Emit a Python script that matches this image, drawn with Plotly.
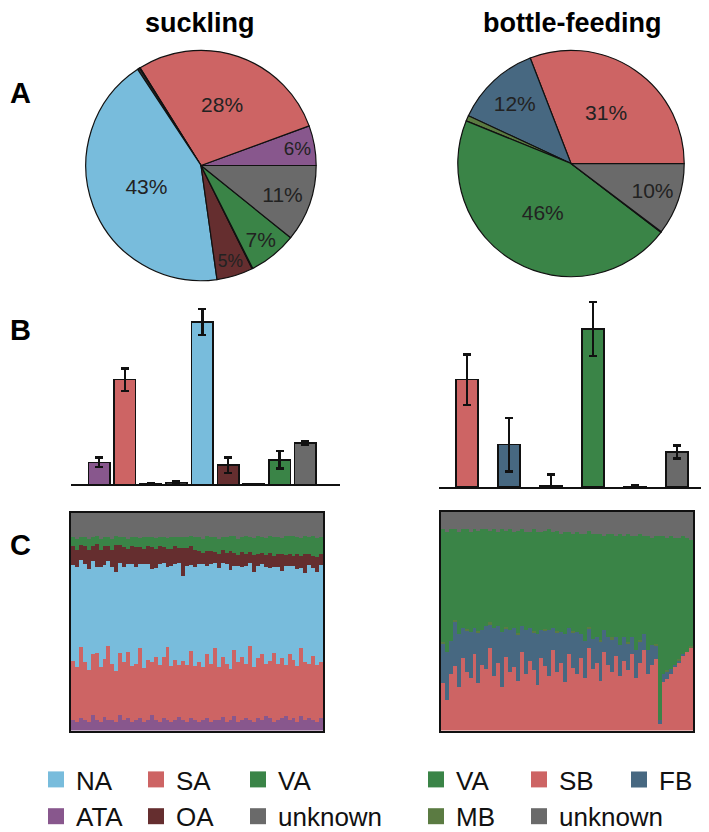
import plotly.graph_objects as go

W, H = 709, 832
def fx(p): return p / W
def fy(p): return 1 - p / H

FONT = "Liberation Sans, Arial, sans-serif"

# ---------------- colours ----------------
COL = {
    "NA": "#78BCDC", "SA": "#CD6464", "VA": "#3A8447", "ATA": "#88578D",
    "OA": "#652E2F", "unknown": "#6A6A6A", "SB": "#CD6464", "FB": "#476881",
    "MB": "#5B7B42", "other": "#333333",
}

# ---------------- A: pie charts ----------------
suck_pie_labels = ["ATA", "SA", "other1", "other2", "NA", "OA", "other3", "VA", "unknown"]
suck_pie_values = [5.6, 28.3, 0.1, 0.3, 43.0, 5.1, 0.1, 6.8, 10.8]
bottle_pie_labels = ["SB", "FB", "MB", "VA", "other", "unknown"]
bottle_pie_values = [30.9, 12.2, 0.8, 45.8, 0.1, 10.3]

# ---------------- B: bar charts ----------------
suck_bar_cats = ["ATA", "SA", "other1", "other2", "NA", "OA", "other3", "VA", "unknown"]
suck_bar_vals = [4.5, 21.3, 0.15, 0.4, 33.0, 3.9, 0.1, 5.0, 8.4]
suck_bar_err = [1.0, 2.3, 0.0, 0.2, 2.6, 1.6, 0.0, 1.8, 0.4]
bottle_bar_cats = ["SB", "FB", "MB", "VA", "other", "unknown"]
bottle_bar_vals = [21.8, 8.6, 0.2, 32.1, 0.1, 7.1]
bottle_bar_err = [5.1, 5.4, 2.4, 5.5, 0.2, 1.3]

# ---------------- C: per-sample composition ----------------
suck_ATA = [5,4,6,5,4,7,5,4, 6,5,5,4,7,5,6,4, 5,6,4,5,7,5,4,6, 5,4,5,6,5,4,6,5,
            4,5,6,4,5,5,6,4, 5,7,4,5,6,5,4,6, 5,7,6,4,5,6,7,5, 6,4,7,5,6,5,4,6]
suck_SA = [27,25,33,26,24,28,32,25, 27,34,26,24,29,27,31,25, 26,33,24,27,25,30,26,28,
           35,25,27,24,29,26,32,25, 27,24,30,26,33,25,28,26, 24,31,27,29,25,34,26,28,
           30,25,27,32,26,29,24,31, 27,26,33,28,25,30,27,26]
suck_NA = [44,46,40,45,47,42,41,46, 43,39,45,47,42,44,41,46, 45,40,47,44,43,42,46,44,
           38,45,44,47,42,45,41,46, 44,47,41,45,39,46,43,45, 47,40,44,42,46,38,45,43,
           41,46,44,40,45,42,47,41, 44,45,39,43,46,41,44,45]
suck_OA = [9,8,7,8,9,7,11,8, 9,7,8,13,8,9,7,8, 9,8,7,8,10,9,8,7, 9,8,8,7,14,8,9,8,
           6,5,7,6,5,7,6,5, 9,6,5,7,6,5,8,6, 5,6,7,5,6,8,5,6, 5,7,6,9,5,6,7,5]
suck_VA = [4,5,4,4,5,4,4,5, 4,4,5,4,4,5,5,4, 5,4,5,4,5,5,4,5, 5,5,4,5,5,5,5,6,
           6,6,7,6,7,7,6,7, 7,8,7,7,8,7,8,8, 7,8,8,9,8,8,9,8, 9,8,9,9,8,9,9,8]
suck_UN = [11,12,11,11,12,11,11,12, 11,11,12,11,11,11,12,11, 11,12,11,11,11,12,11,11,
           12,11,11,11,12,11,11,11, 11,12,11,11,11,12,11,11, 11,11,12,11,11,11,12,11,
           11,12,11,11,11,12,11,11, 11,11,12,11,11,11,12,11]

bot_SB = [22,14,26,30,20,33,27,24, 35,22,30,28,38,25,31,20, 34,27,29,23,36,26,32,28,
          21,33,30,25,37,27,31,22, 35,29,26,33,24,38,28,31, 23,36,30,27,34,25,32,28,
          35,24,31,37,26,30,33,3, 22,24,26,29,31,34,36,38]
bot_FB = [18,22,15,20,24,14,19,21, 12,23,16,20,11,22,17,25, 13,19,18,21,12,20,15,17,
          23,13,16,21,10,18,14,22, 12,16,19,11,17,9,14,12, 18,10,13,15,9,14,11,12,
          8,13,10,7,11,9,6,2, 4,3,2,1,1,1,0,0]
bot_MB = [1,0,0,1,0,0,1,0, 0,1,0,0,1,0,0,0, 1,0,0,1,0,0,0,1, 0,0,1,0,0,1,0,0,
          0,1,0,0,0,1,0,0, 1,0,0,1,0,0,0,1, 0,0,1,0,0,0,1,0, 0,1,0,0,1,0,0,1]
bot_VA = [52,55,51,42,47,45,46,46, 45,46,46,44,42,45,43,47, 44,46,44,47,44,45,44,47,
          47,45,45,46,44,46,45,47, 44,45,46,46,49,44,48,47, 49,43,47,48,46,51,46,50,
          46,52,49,45,52,49,50,84, 63,61,61,58,56,54,52,49]
bot_UN = [8,9,8,8,9,8,8,9, 8,9,8,8,9,8,9,8, 9,8,9,9,8,9,9,8, 9,9,9,8,9,9,10,9,
          9,10,9,10,10,9,10,10, 10,11,10,10,11,10,11,10, 11,11,10,11,11,12,11,11,
          11,12,11,12,12,11,12,13]

def normalise(series_list):
    n = len(series_list[0])
    tot = [sum(s[i] for s in series_list) for i in range(n)]
    return [[100.0 * s[i] / tot[i] for i in range(n)] for s in series_list]

fig = go.Figure()

def pie_text(vals):
    tot = sum(vals)
    return [f"{100*v/tot:.0f}%" if 100 * v / tot >= 2 else "" for v in vals]

for labels, vals, dom in [
    (suck_pie_labels, suck_pie_values, ([fx(76), fx(310)], [fy(277), fy(43)])),
    (bottle_pie_labels, bottle_pie_values, ([fx(448), fx(678)], [fy(273), fy(43)])),
]:
    # plotly offsets a counterclockwise pie by its first slice; start the first slice at 3 o'clock
    first_angle = 360.0 * vals[0] / sum(vals)
    fig.add_trace(go.Pie(
        labels=labels, values=vals, sort=False, direction="counterclockwise",
        rotation=90 - first_angle, domain=dict(x=dom[0], y=dom[1]),
        marker=dict(colors=[COL.get(l, COL["other"]) for l in labels],
                    line=dict(color="#111111", width=1.2)),
        text=pie_text(vals), textinfo="text", textposition="inside",
        insidetextorientation="horizontal",
        textfont=dict(family=FONT, size=21, color="#222222"),
        showlegend=False, hoverinfo="label+percent",
    ))

# B bars
for cats, vals, err, xa, ya, w in [
    (suck_bar_cats, suck_bar_vals, suck_bar_err, "x", "y", 0.83),
    (bottle_bar_cats, bottle_bar_vals, bottle_bar_err, "x2", "y2", 0.53),
]:
    fig.add_trace(go.Bar(
        x=list(range(len(cats))), y=vals, width=w, xaxis=xa, yaxis=ya,
        marker=dict(color=[COL.get(c, COL["other"]) for c in cats],
                    line=dict(color="#111111", width=1.5)),
        error_y=dict(type="data", array=err, color="#111111", thickness=2.5, width=4),
        showlegend=False, hovertext=cats, hoverinfo="text+y",
    ))

# C stacked composition
suck_names = ["ATA", "SA", "NA", "OA", "VA", "unknown"]
suck_norm = normalise([suck_ATA, suck_SA, suck_NA, suck_OA, suck_VA, suck_UN])
for name, ser in zip(suck_names, suck_norm):
    fig.add_trace(go.Bar(x=list(range(len(ser))), y=ser, width=1.0, xaxis="x3", yaxis="y3",
                         marker=dict(color=COL[name], line=dict(width=0)),
                         name=name, showlegend=False))
bot_names = ["SB", "FB", "MB", "VA", "unknown"]
bot_norm = normalise([bot_SB, bot_FB, bot_MB, bot_VA, bot_UN])
for name, ser in zip(bot_names, bot_norm):
    fig.add_trace(go.Bar(x=list(range(len(ser))), y=ser, width=1.0, xaxis="x4", yaxis="y4",
                         marker=dict(color=COL[name], line=dict(width=0)),
                         name=name, showlegend=False))

# legends (columns)
legend_cols = [
    ("legend", ["NA", "ATA"], 28),
    ("legend2", ["SA", "OA"], 128),
    ("legend3", ["VA", "unknown"], 230),
    ("legend4", ["VA", "MB"], 408),
    ("legend5", ["SB", "unknown"], 511),
    ("legend6", ["FB"], 611),
]
for lg, names, _ in legend_cols:
    for nm in names:
        fig.add_trace(go.Scatter(x=[None], y=[None], mode="markers", name=nm,
                                 marker=dict(symbol="square", size=16, color=COL[nm]),
                                 legend=lg, xaxis="x3", yaxis="y3", showlegend=True))

layout = dict(
    width=W, height=H, margin=dict(l=0, r=0, t=0, b=0),
    paper_bgcolor="white", plot_bgcolor="white", barmode="stack",
    font=dict(family=FONT, color="#111111"),
)
noax = dict(showgrid=False, zeroline=False, showticklabels=False, ticks="")
layout["xaxis"] = dict(domain=[fx(63), fx(332)], range=[-1.09, 9.34], showline=True,
                       linecolor="#111111", linewidth=1.5, anchor="y", **noax)
layout["yaxis"] = dict(domain=[fy(484), fy(300)], range=[0, 36.8], visible=False, anchor="x")
layout["xaxis2"] = dict(domain=[fx(431), fx(697)], range=[-0.67, 5.67], showline=True,
                        linecolor="#111111", linewidth=1.5, anchor="y2", **noax)
layout["yaxis2"] = dict(domain=[fy(486.7), fy(296)], range=[0, 38.1], visible=False, anchor="x2")
box = dict(showline=True, mirror=True, linecolor="#111111", linewidth=1.5, **noax)
layout["xaxis3"] = dict(domain=[fx(63), fx(315)], range=[-0.5, len(suck_ATA) - 0.5], anchor="y3", **box)
layout["yaxis3"] = dict(domain=[fy(734), fy(513)], range=[0, 100], anchor="x3", **box)
layout["xaxis4"] = dict(domain=[fx(433), fx(685)], range=[-0.5, len(bot_SB) - 0.5], anchor="y4", **box)
layout["yaxis4"] = dict(domain=[fy(734), fy(512)], range=[0, 100], anchor="x4", **box)

for lg, names, xpx in legend_cols:
    layout[lg] = dict(x=fx(xpx), y=fy(760), xanchor="left", yanchor="top",
                      orientation="v", traceorder="normal", bgcolor="rgba(0,0,0,0)",
                      borderwidth=0, font=dict(family=FONT, size=26, color="#111111"),
                      tracegroupgap=0, itemclick=False, itemdoubleclick=False)

ann = []
for txt, xpx, ypx, size in [("suckling", 192, 15, 27), ("bottle-feeding", 564, 15, 27),
                            ("A", 12, 86, 29), ("B", 12, 327, 29), ("C", 12, 546, 29)]:
    ann.append(dict(text=f"<b>{txt}</b>", x=fx(xpx), y=fy(ypx), xref="paper", yref="paper",
                    xanchor="center", yanchor="middle", showarrow=False,
                    font=dict(family=FONT, size=size, color="#000000")))
layout["annotations"] = ann
fig.update_layout(**layout)

fig.write_html("out.html")
